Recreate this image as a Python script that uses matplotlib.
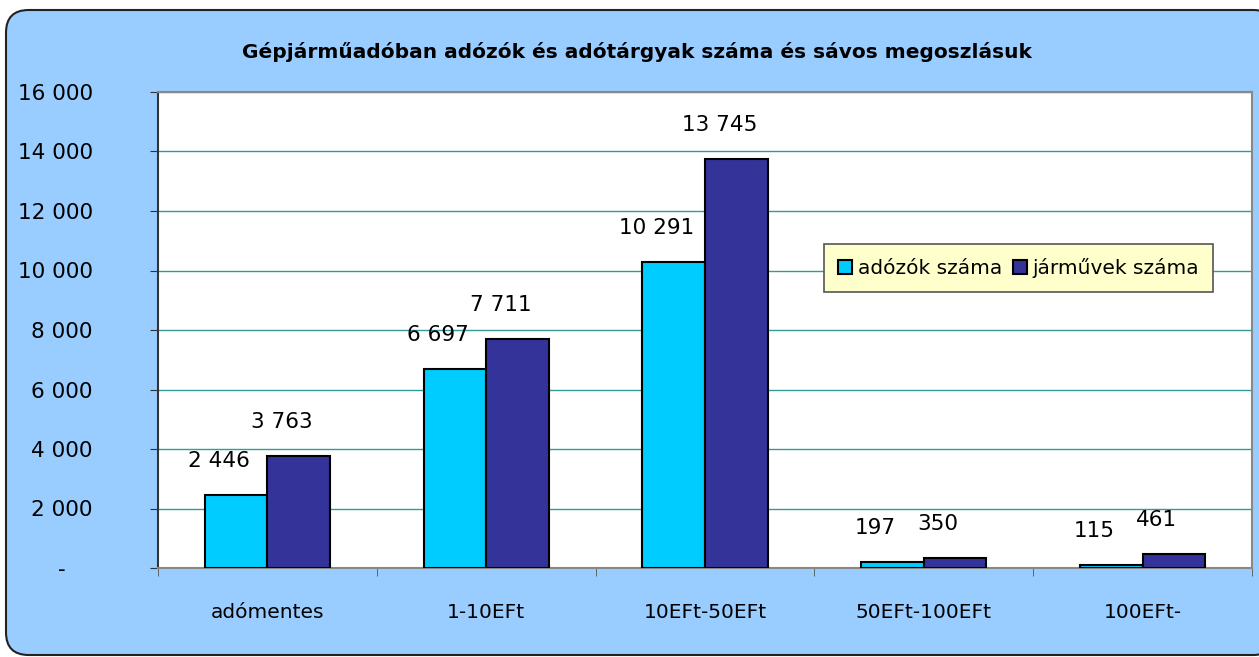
import numpy as np
import matplotlib.pyplot as plt
from matplotlib.patches import FancyBboxPatch
from matplotlib.ticker import FuncFormatter, MultipleLocator

categories = ["adómentes", "1-10EFt", "10EFt-50EFt", "50EFt-100EFt", "100EFt-"]
adozok = [2446, 6697, 10291, 197, 115]
jarmuvek = [3763, 7711, 13745, 350, 461]
series_names = ["adózók száma", "járművek száma"]
title = "Gépjárműadóban adózók és adótárgyak száma és sávos megoszlásuk"

plt.rcParams['font.family'] = ['DejaVu Sans']


def fmt_thousands(v, pos=None):
    if v == 0:
        return "-    "
    return f"{int(v):,}".replace(",", " ")


W, H = 1259, 657
fig = plt.figure(figsize=(W / 100, H / 100), dpi=100)
fig.patch.set_facecolor("white")

# rounded blue chart area
bg = FancyBboxPatch((6 / W, 2 / H), 1270 / W, 645 / H,
                    boxstyle="round,pad=0,rounding_size=0.018",
                    transform=fig.transFigure, facecolor="#99CCFF",
                    edgecolor="#222222", linewidth=1.5, zorder=-1,
                    mutation_aspect=W / H)
fig.patches.append(bg)

ax = fig.add_axes([158 / W, (H - 568) / H, (1252 - 158) / W, (568 - 92) / H])
ax.set_zorder(1)
ax.set_facecolor("white")

x = np.arange(len(categories))
bw = 1 / 3.5
b1 = ax.bar(x - bw / 2, adozok, bw, color="#00CCFF", edgecolor="black",
            linewidth=1.5, label=series_names[0], zorder=3)
b2 = ax.bar(x + bw / 2, jarmuvek, bw, color="#333399", edgecolor="black",
            linewidth=1.5, label=series_names[1], zorder=3)

for bars in (b1, b2):
    for r in bars:
        v = r.get_height()
        ax.annotate(fmt_thousands(v), (r.get_x() + r.get_width() / 2, v),
                    xytext=(-17, 34), textcoords="offset pixels",
                    ha="center", va="center", fontsize=15.5)

ax.set_xlim(-0.5, len(categories) - 0.5)
ax.set_ylim(0, 16000)
ax.yaxis.set_major_locator(MultipleLocator(2000))
ax.yaxis.set_major_formatter(FuncFormatter(fmt_thousands))
ax.grid(axis="y", color="#339999", linewidth=1, zorder=1)

ax.set_xticks(x)
ax.set_xticklabels(categories, fontsize=14.5)
ax.set_xticks(np.arange(len(categories) + 1) - 0.5, minor=True)
ax.tick_params(axis="x", which="major", length=0, pad=25)
ax.tick_params(axis="x", which="minor", length=6, direction="out",
               color="#555555")
ax.tick_params(axis="y", length=6, direction="out", pad=41, labelsize=15.5,
               color="#333333")

for s in ("top", "right", "bottom"):
    ax.spines[s].set_color("#888888")
    ax.spines[s].set_linewidth(1.5)
ax.spines["left"].set_color("#333333")
ax.spines["left"].set_linewidth(1.5)

leg = ax.legend(loc="upper left", bbox_to_anchor=((824 - 158) / 1094, (568 - 244) / 476),
                ncol=2, fontsize=14.5, frameon=True, fancybox=False,
                facecolor="#FFFFCC", edgecolor="#555555", framealpha=1,
                handlelength=0.7, handleheight=0.7, handletextpad=0.3,
                columnspacing=0.5, borderpad=0.7, borderaxespad=0)
leg.get_frame().set_linewidth(1.2)

fig.text(637 / W, 1 - 52 / H, title, ha="center", va="center",
         fontsize=14.5, fontweight="bold")

fig.savefig("out.png", dpi=100)
